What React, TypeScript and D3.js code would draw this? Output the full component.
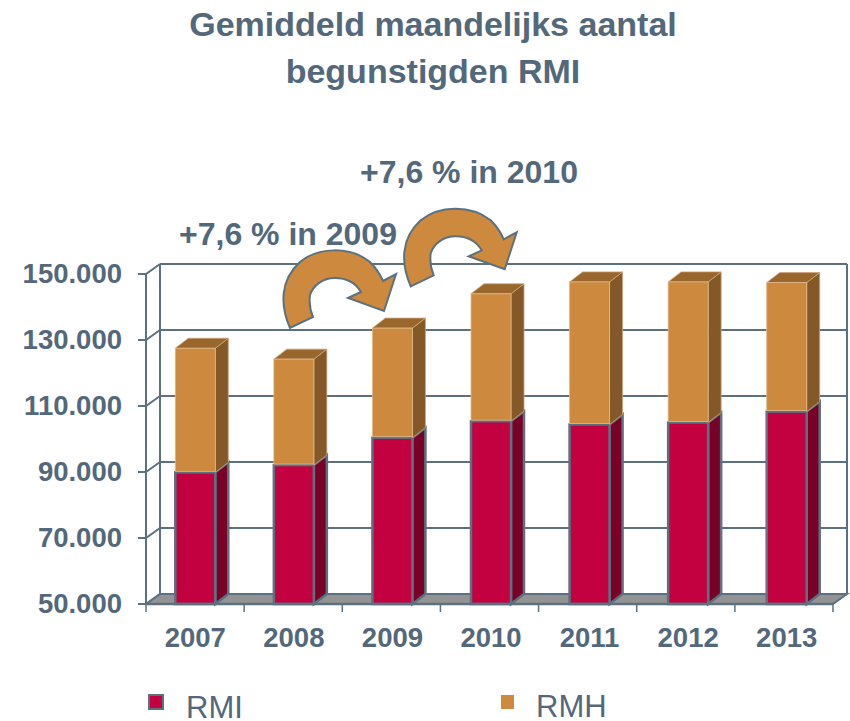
import React, { useRef, useEffect } from "react";
import * as d3 from "d3";

const years = ["2007", "2008", "2009", "2010", "2011", "2012", "2013"];
const rmi = [89900, 92100, 100400, 105400, 104400, 105000, 108300];
const rmh = [37600, 32100, 33200, 38600, 43200, 42600, 39100];
const yTicks = [50000, 70000, 90000, 110000, 130000, 150000];
const titleLines = ["Gemiddeld maandelijks aantal", "begunstigden RMI"];

const TEXT = "#53687a";
const LINE = "#5b7180";
const ORANGE = ["#cd8a3e", "#99662c", "#855927"];
const CRIMSON = ["#c30040", "#a00035", "#7a0028"];
const FONT = "'Liberation Sans', Arial, sans-serif";

// arrow shape, used twice with an offset
const ARROW =
  "M290,328 C280,305 280,280 300,262 C318,247 350,246 370,262 C376,268 380,274 383,281 L396,274 L384,311 L348,298 L361,292 C355,282 345,278 335,278 C322,278 313,286 310,295 C309,303 310,310 313,317 Z";

const App = () => {
  const ref = useRef<SVGGElement | null>(null);

  useEffect(() => {
    const svg = d3.select(ref.current);
    svg.selectAll("*").remove();

    // ticks sit on this one, the bars drift slightly right of it in the original
    const xTick = d3.scaleBand().domain(years).range([146, 833]);
    const x = d3.scaleBand().domain(years).range([146, 836]);
    const y = d3.scaleLinear().domain([50000, 150000]).range([604, 274]);
    const dx = 14;
    const dy = -10;
    const barW = 40;
    const depth = 13;
    const lift = -10;

    // walls and grid
    const grid = svg.append("g").attr("fill", "none").attr("stroke", LINE).attr("stroke-width", 2);
    yTicks.forEach((t) => {
      if (t !== 50000) {
        grid.append("line").attr("x1", 146 + dx).attr("x2", 833 + dx).attr("y1", y(t) + dy).attr("y2", y(t) + dy);
      }
      grid.append("path").attr("d", `M${146 - 8},${y(t)} H146 L${146 + dx},${y(t) + dy}`);
    });
    svg
      .append("path")
      .attr("d", `M146,604 L${146 + dx},${604 + dy} H${833 + dx} L833,604 Z`)
      .attr("fill", "#939393")
      .attr("stroke", LINE)
      .attr("stroke-width", 2);
    grid.append("line").attr("x1", 146).attr("x2", 146).attr("y1", 274).attr("y2", 604);
    grid.append("line").attr("x1", 146 + dx).attr("x2", 146 + dx).attr("y1", 264).attr("y2", 594);
    grid.append("line").attr("x1", 833 + dx).attr("x2", 833 + dx).attr("y1", 264).attr("y2", 594);

    // bars
    years.forEach((yr, i) => {
      const x0 = (x(yr) as number) + x.bandwidth() / 2 - barW / 2;
      const x1 = x0 + barW;
      const base = y(50000);
      const top1 = y(rmi[i]);
      const top2 = y(rmi[i] + rmh[i]);
      const g = svg.append("g");
      // lower part
      g.append("path")
        .attr("d", `M${x1},${base} V${top1} l${depth},${lift} V${base + lift} Z`)
        .attr("fill", CRIMSON[2])
        .attr("stroke", LINE)
        .attr("stroke-width", 2.5);
      g.append("rect")
        .attr("x", x0)
        .attr("y", top1)
        .attr("width", barW)
        .attr("height", base - top1)
        .attr("fill", CRIMSON[0])
        .attr("stroke", LINE)
        .attr("stroke-width", 2.5);
      // upper part
      g.append("path")
        .attr("d", `M${x1},${top1} V${top2} l${depth},${lift} V${top1 + lift} Z`)
        .attr("fill", ORANGE[2])
        .attr("stroke", "#c9a57c")
        .attr("stroke-width", 0.8);
      g.append("path")
        .attr("d", `M${x0},${top2} l${depth},${lift} H${x1 + depth} l${-depth},${-lift} Z`)
        .attr("fill", ORANGE[1])
        .attr("stroke", "#c9a57c")
        .attr("stroke-width", 0.8);
      g.append("rect")
        .attr("x", x0)
        .attr("y", top2)
        .attr("width", barW)
        .attr("height", top1 - top2 - 1)
        .attr("fill", ORANGE[0])
        .attr("stroke", "#e0b98c")
        .attr("stroke-width", 0.8);
    });

    // axes
    const axisX = svg
      .append("g")
      .attr("transform", "translate(0,604)")
      .call(d3.axisBottom(x).tickSize(0).tickPadding(23));
    axisX.select(".domain").remove();
    axisX
      .selectAll("text")
      .attr("fill", TEXT)
      .attr("font-family", FONT)
      .attr("font-size", 27.5)
      .attr("font-weight", "bold");
    svg.append("line").attr("x1", 146).attr("x2", 833).attr("y1", 604).attr("y2", 604).attr("stroke", LINE).attr("stroke-width", 2.5);
    d3.range(years.length + 1).forEach((i) => {
      const px = 146 + i * xTick.step();
      svg.append("line").attr("x1", px).attr("x2", px).attr("y1", 604).attr("y2", 612).attr("stroke", LINE).attr("stroke-width", 1.5);
    });

    const axisY = svg
      .append("g")
      .attr("transform", "translate(122,0)")
      .call(
        d3
          .axisLeft(y)
          .tickValues(yTicks)
          .tickSize(0)
          .tickPadding(0)
          .tickFormat((d) => d3.format(",")(d as number).replace(",", "."))
      );
    axisY.select(".domain").remove();
    axisY
      .selectAll("text")
      .attr("fill", TEXT)
      .attr("font-family", FONT)
      .attr("font-size", 27.5)
      .attr("font-weight", "bold");

    // arrows
    [[0, 0], [120.7, -41.7]].forEach(([tx, ty]) => {
      svg
        .append("path")
        .attr("d", ARROW)
        .attr("transform", `translate(${tx},${ty})`)
        .attr("fill", ORANGE[0])
        .attr("stroke", LINE)
        .attr("stroke-width", 2);
    });
  }, []);

  const bold = { fontFamily: FONT, fontWeight: "bold", fill: TEXT } as const;
  return (
    <svg
      width={850}
      height={721}
      style={{ position: "absolute", left: 0, top: 0, background: "#fff" }}
    >
      <g ref={ref} />
      {titleLines.map((t, i) => (
        <text key={t} x={433} y={36 + i * 47} textAnchor="middle" fontSize={34} {...bold}>
          {t}
        </text>
      ))}
      <text x={469} y={183} textAnchor="middle" fontSize={32} {...bold}>+7,6 % in 2010</text>
      <text x={288} y={245} textAnchor="middle" fontSize={32} {...bold}>+7,6 % in 2009</text>
      <rect x={149} y={695} width={14} height={14} fill={CRIMSON[0]} stroke={LINE} strokeWidth={2} />
      <text x={186} y={718} fontSize={31} fontFamily={FONT} fill={TEXT}>RMI</text>
      <rect x={501} y={695} width={13} height={14} fill={ORANGE[0]} />
      <text x={536} y={717} fontSize={31} fontFamily={FONT} fill={TEXT}>RMH</text>
    </svg>
  );
};

export default App;
